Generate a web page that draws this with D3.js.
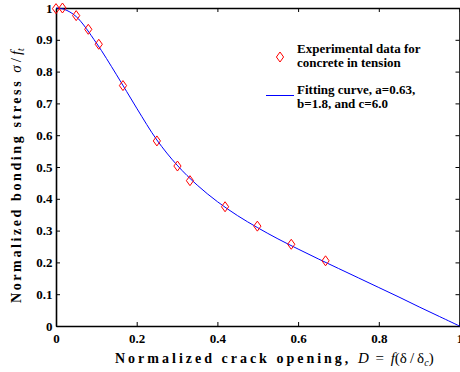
<!DOCTYPE html>
<html lang="en">
  <head>
    <meta charset="utf-8" />
    <title>Normalized bonding stress</title>
    <script src="https://d3js.org/d3.v7.js"></script>
    <style>
      body { margin: 0; background: #fff; }
      text { font-family: "Liberation Serif", "Times New Roman", serif; }
    </style>
  </head>
  <body>
    <script>

    // experimental points
    var expX = [0.0, 0.016, 0.050, 0.080, 0.106, 0.166, 0.250, 0.301, 0.332, 0.419, 0.499, 0.583, 0.668];
    var expY = [0.998, 1.0, 0.976, 0.933, 0.886, 0.756, 0.582, 0.503, 0.457, 0.375, 0.314, 0.257, 0.205];

    // fitting curve samples
    var curveX = [0, 0.02, 0.05, 0.1, 0.15, 0.2, 0.25, 0.3, 0.35, 0.4, 0.45, 0.5, 0.55, 0.6, 0.65, 0.7, 0.75, 0.8, 0.85, 0.9, 0.95, 1.0];
    var curveY = [1.0, 0.996, 0.973, 0.89, 0.79, 0.685, 0.585, 0.506, 0.443, 0.391, 0.347, 0.309, 0.274, 0.242, 0.211, 0.181, 0.151, 0.121, 0.091, 0.06, 0.03, 0];

    var xTicks = [0, 0.2, 0.4, 0.6, 0.8, 1];
    var yTicks = [0, 0.1, 0.2, 0.3, 0.4, 0.5, 0.6, 0.7, 0.8, 0.9, 1];
    var xTickLabels = ["0", "0.2", "0.4", "0.6", "0.8", "1"];
    var yTickLabels = ["0", "0.1", "0.2", "0.3", "0.4", "0.5", "0.6", "0.7", "0.8", "0.9", "1"];

    var w = 460, h = 372;
    var plotL = 56, plotR = 459.5, plotT = 8, plotB = 326;

    var x = d3.scaleLinear().domain([0, 1]).range([plotL, plotR]);
    var y = d3.scaleLinear().domain([0, 1]).range([plotB, plotT]);

    var svg = d3.select("body").append("svg")
      .attr("width", w)
      .attr("height", h);

    // axes, ticks pointing inwards
    function styleAxis(g) {
      g.selectAll("path").attr("stroke", "#000").attr("stroke-width", 1.6).attr("fill", "none");
      g.selectAll("line").attr("stroke", "#000").attr("stroke-width", 1);
      g.selectAll("text")
        .attr("font-size", 13)
        .attr("font-weight", "bold")
        .attr("fill", "#000");
    }

    svg.append("g")
      .attr("transform", `translate(0,${plotB})`)
      .call(d3.axisBottom(x).tickValues(xTicks).tickSizeInner(-4).tickSizeOuter(0)
        .tickPadding(8).tickFormat((d, i) => xTickLabels[i]))
      .call(styleAxis);

    svg.append("g")
      .attr("transform", `translate(${plotL},0)`)
      .call(d3.axisLeft(y).tickValues(yTicks).tickSizeInner(-4).tickSizeOuter(0)
        .tickPadding(3.5).tickFormat((d, i) => yTickLabels[i]))
      .call(styleAxis);

    svg.append("g")
      .attr("transform", `translate(0,${plotT})`)
      .call(d3.axisTop(x).tickValues(xTicks).tickSizeInner(-4).tickSizeOuter(0).tickFormat(""))
      .call(styleAxis);

    svg.append("g")
      .attr("transform", `translate(${plotR},0)`)
      .call(d3.axisRight(y).tickValues(yTicks).tickSizeInner(-4).tickSizeOuter(0).tickFormat(""))
      .call(styleAxis);

    // fitting curve
    var line = d3.line()
      .x(d => x(d[0]))
      .y(d => y(d[1]))
      .curve(d3.curveCatmullRom.alpha(0.5));

    svg.append("path")
      .datum(curveX.map((v, i) => [v, curveY[i]]))
      .attr("d", line)
      .attr("fill", "none")
      .attr("stroke", "#0000ff")
      .attr("stroke-width", 1);

    // diamond markers
    function diamond(cx, cy) {
      return `M${cx},${cy - 5}L${cx + 3.6},${cy}L${cx},${cy + 5}L${cx - 3.6},${cy}Z`;
    }

    svg.selectAll(".pt")
      .data(expX.map((v, i) => [v, expY[i]]))
      .join("path")
        .attr("class", "pt")
        .attr("d", d => diamond(x(d[0]), y(d[1])))
        .attr("fill", "none")
        .attr("stroke", "#ff0000")
        .attr("stroke-width", 1);

    // legend
    var leg = svg.append("g")
      .attr("font-size", 13)
      .attr("font-weight", "bold");

    leg.append("path")
      .attr("d", diamond(280, 57))
      .attr("fill", "none")
      .attr("stroke", "#ff0000");

    leg.append("text").attr("x", 297).attr("y", 53).text("Experimental data for");
    leg.append("text").attr("x", 297).attr("y", 67).text("concrete in tension");

    leg.append("line")
      .attr("x1", 266).attr("x2", 294)
      .attr("y1", 95.5).attr("y2", 95.5)
      .attr("stroke", "#0000ff")
      .attr("stroke-width", 1);

    leg.append("text").attr("x", 297).attr("y", 94).text("Fitting curve, a=0.63,");
    leg.append("text").attr("x", 297).attr("y", 108).text("b=1.8, and c=6.0");

    // x title
    var xt = svg.append("text")
      .attr("x", 115)
      .attr("y", 363)
      .attr("font-size", 14);
    xt.append("tspan")
      .attr("font-weight", "bold")
      .attr("letter-spacing", "3px")
      .text("Normalized crack opening, ");
    xt.append("tspan").attr("font-size", 15).attr("font-style", "italic").text("D");
    xt.append("tspan").attr("font-size", 15).text(" \u2009=\u2009 ");
    xt.append("tspan").attr("font-size", 15).attr("font-style", "italic").text("f");
    xt.append("tspan").attr("font-size", 15).text("(δ\u2009/\u2009δ");
    xt.append("tspan").attr("font-style", "italic").attr("font-size", 10).attr("dy", 3).text("c");
    xt.append("tspan").attr("font-size", 15).attr("dy", -3).text(")");

    // y title
    var yt = svg.append("text")
      .attr("transform", "translate(20.5,303) rotate(-90)")
      .attr("font-size", 14);
    yt.append("tspan")
      .attr("font-weight", "bold")
      .attr("letter-spacing", "2.6px")
      .text("Normalized bonding stress ");
    yt.append("tspan").attr("font-size", 15).attr("font-style", "italic").text("σ");
    yt.append("tspan").attr("font-size", 15).text("\u2009/\u2009");
    yt.append("tspan").attr("font-size", 15).attr("font-style", "italic").text("f");
    yt.append("tspan").attr("font-style", "italic").attr("font-size", 10).attr("dy", 3).text("t");

    </script>
  </body>
</html>
